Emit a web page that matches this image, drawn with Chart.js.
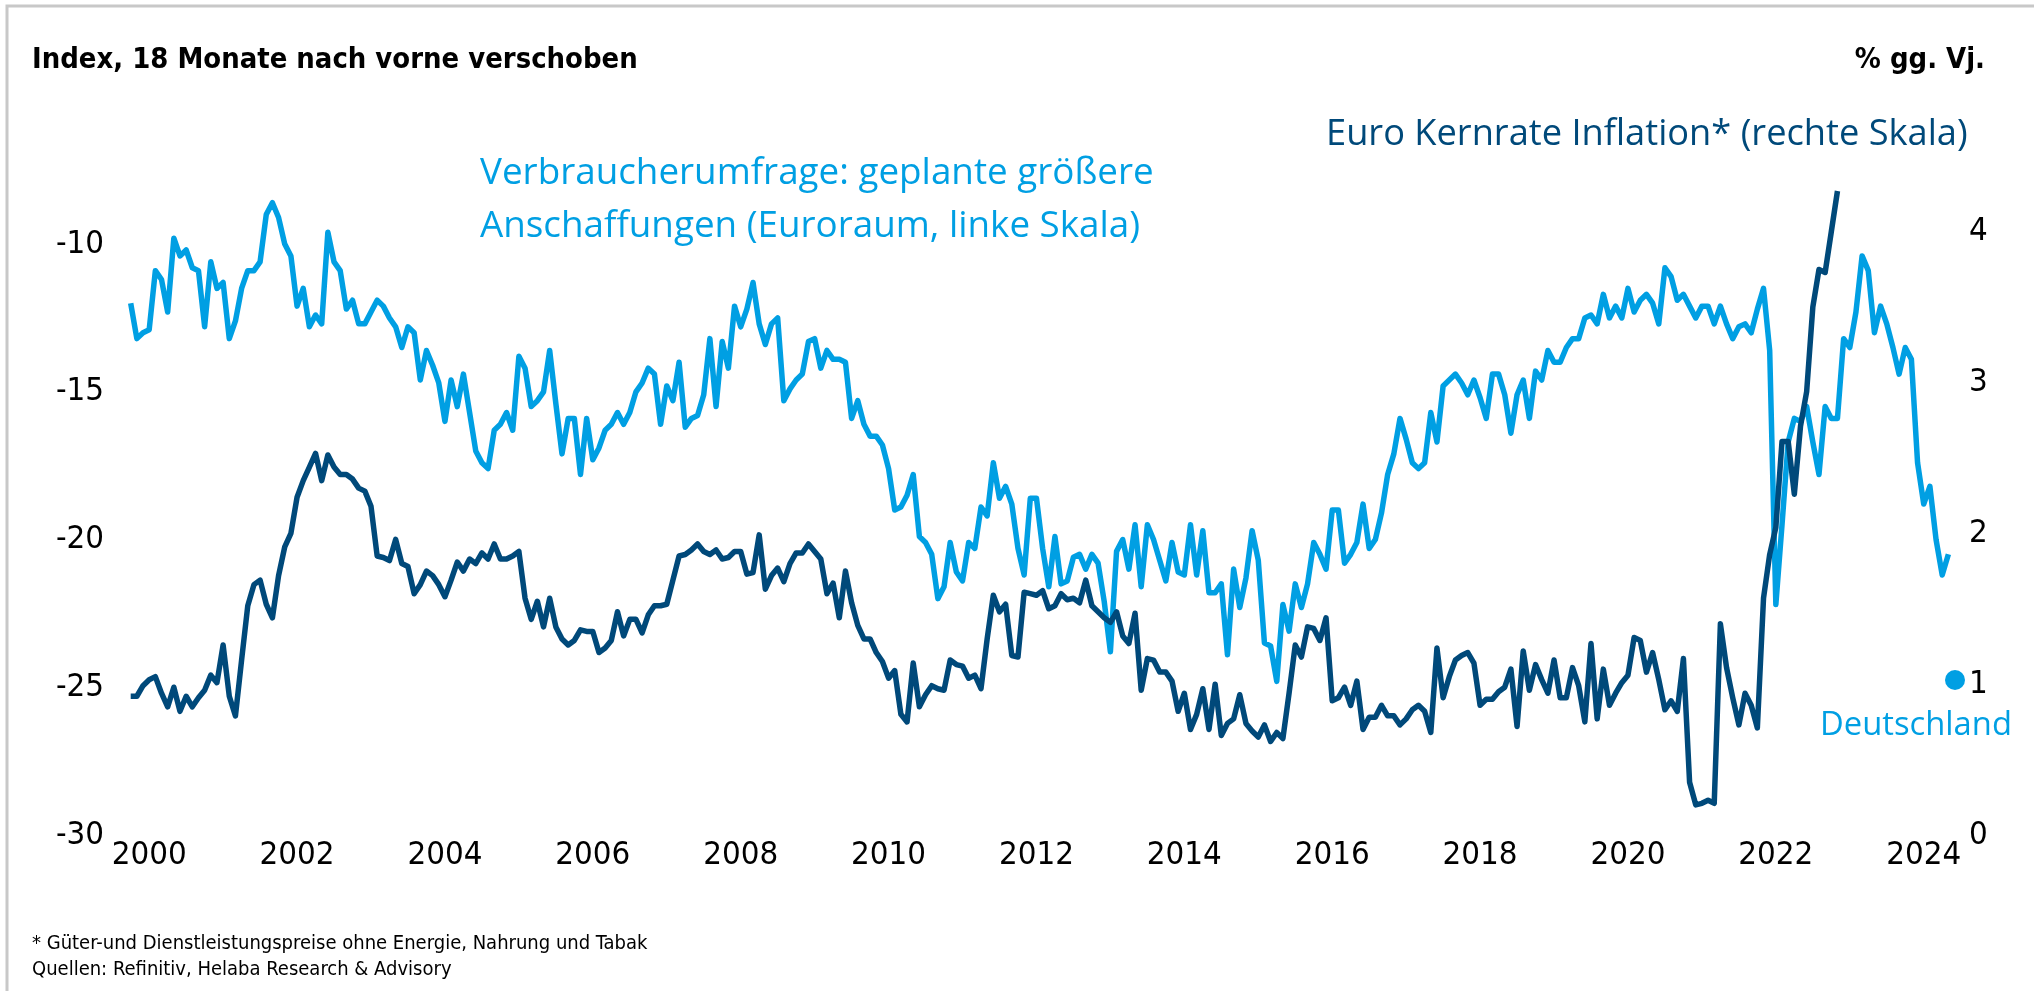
<!DOCTYPE html>
<html lang="de">
<head>
<meta charset="utf-8">
<title>Verbraucherumfrage und Euro Kernrate</title>
<script src="https://cdn.jsdelivr.net/npm/chart.js@4.4.1/dist/chart.umd.min.js"></script>
<style>
  html, body { margin: 0; padding: 0; background: #fff; }
</style>
</head>
<body>
<canvas id="chart" width="2034" height="991"></canvas>
<script>
"use strict"

// first month on the chart, one value per month after that
const startYear = 1999;
const startMonth = 10;

const yearTicks = [2000, 2002, 2004, 2006, 2008, 2010, 2012, 2014, 2016, 2018, 2020, 2022, 2024];
const leftTicks = [-30, -25, -20, -15, -10];
const rightTicks = [0, 1, 2, 3, 4];

// Verbraucherumfrage: geplante groessere Anschaffungen (Euroraum), 18 Monate nach vorne verschoben
const survey = [
  -12.0, -13.2, -13.0, -12.9, -10.9, -11.2, -12.3, -9.8, -10.4, -10.2, -10.8, -10.9,
  -12.8, -10.6, -11.5, -11.3, -13.2, -12.6, -11.5, -10.9, -10.9, -10.6, -9.0, -8.6,
  -9.1, -10.0, -10.4, -12.1, -11.5, -12.8, -12.4, -12.7, -9.6, -10.6, -10.9, -12.2,
  -11.9, -12.7, -12.7, -12.3, -11.9, -12.1, -12.5, -12.8, -13.5, -12.8, -13.0, -14.6,
  -13.6, -14.1, -14.7, -16.0, -14.6, -15.5,
  -14.4, -15.7, -17.0, -17.4, -17.6, -16.3, -16.1, -15.7, -16.3, -13.8, -14.2, -15.5,
  -15.3, -15.0, -13.6, -15.4, -17.1, -15.9, -15.9, -17.8, -15.9, -17.3, -16.9, -16.3,
  -16.1, -15.7, -16.1, -15.7, -15.0, -14.7, -14.2, -14.4, -16.1, -14.8, -15.3, -14.0,
  -16.2, -15.9, -15.8, -15.1, -13.2, -15.5, -13.3, -14.2, -12.1, -12.8, -12.2, -11.3,
  -12.7, -13.4, -12.7, -12.5, -15.3, -14.9,
  -14.6, -14.4, -13.3, -13.2, -14.2, -13.6, -13.9, -13.9, -14.0, -15.9, -15.3, -16.1,
  -16.5, -16.5, -16.8, -17.6, -19.0, -18.9, -18.5, -17.8, -19.9, -20.1, -20.5, -22.0,
  -21.6, -20.1, -21.1, -21.4, -20.1, -20.3, -18.9, -19.2, -17.4, -18.6, -18.2, -18.8,
  -20.3, -21.2, -18.6, -18.6, -20.3, -21.6, -19.9, -21.5, -21.4, -20.6, -20.5, -21.0,
  -20.5, -20.8, -22.1, -23.8, -20.4,
  -20.0, -21.0, -19.5, -21.6, -19.5, -20.0, -20.7, -21.4, -20.1, -21.1, -21.2, -19.5,
  -21.2, -19.7, -21.8, -21.8, -21.5, -23.9, -21.0, -22.3, -21.3, -19.7, -20.7, -23.5,
  -23.6, -24.8, -22.2, -23.1, -21.5, -22.3, -21.5, -20.1, -20.5, -21.0, -19.0, -19.0,
  -20.8, -20.5, -20.1, -18.8, -20.3, -20.0, -19.1, -17.8, -17.1, -15.9, -16.6, -17.4,
  -17.6, -17.4, -15.7, -16.7, -14.8, -14.6,
  -14.4, -14.7, -15.1, -14.6, -15.2, -15.9, -14.4, -14.4, -15.1, -16.4, -15.1, -14.6,
  -15.9, -14.3, -14.6, -13.6, -14.0, -14.0, -13.5, -13.2, -13.2, -12.5, -12.4, -12.7,
  -11.7, -12.5, -12.1, -12.5, -11.5, -12.3, -11.9, -11.7, -12.0, -12.7, -10.8, -11.1,
  -11.9, -11.7, -12.1, -12.5, -12.1, -12.1, -12.7, -12.1, -12.7, -13.2, -12.8, -12.7,
  -13.0, -12.2, -11.5, -13.6, -22.2,
  -19.5, -16.7, -15.9, -16.0, -15.5, -16.7, -17.8, -15.5, -15.9, -15.9, -13.2, -13.5,
  -12.3, -10.4, -10.9, -13.0, -12.1, -12.7, -13.5, -14.4, -13.5, -13.9, -17.4, -18.8,
  -18.2, -20.0, -21.2, -20.5
];

// Euro Kernrate Inflation, % gg. Vj.
const coreInflation = [
  0.92, 0.92, 0.99, 1.03, 1.05, 0.94, 0.85, 0.98, 0.82, 0.92, 0.85, 0.91,
  0.96, 1.06, 1.01, 1.26, 0.92, 0.79, 1.16, 1.52, 1.66, 1.69, 1.53, 1.44,
  1.72, 1.91, 2.00, 2.24, 2.35, 2.44, 2.53, 2.35, 2.52, 2.44, 2.39, 2.39,
  2.36, 2.30, 2.28, 2.18, 1.85, 1.84, 1.82, 1.96, 1.80, 1.78, 1.60, 1.66,
  1.75, 1.72, 1.66, 1.58, 1.69, 1.81,
  1.75, 1.83, 1.80, 1.87, 1.83, 1.93, 1.83, 1.83, 1.85, 1.88, 1.57, 1.43,
  1.55, 1.38, 1.57, 1.38, 1.30, 1.26, 1.29, 1.36, 1.35, 1.35, 1.21, 1.24,
  1.29, 1.48, 1.32, 1.43, 1.43, 1.34, 1.46, 1.52, 1.52, 1.53, 1.69, 1.85,
  1.86, 1.89, 1.93, 1.88, 1.86, 1.89, 1.83, 1.84, 1.88, 1.88, 1.73, 1.74,
  1.99, 1.63, 1.72, 1.77, 1.68, 1.80,
  1.87, 1.87, 1.93, 1.88, 1.83, 1.60, 1.67, 1.44, 1.75, 1.54, 1.39, 1.30,
  1.30, 1.21, 1.15, 1.04, 1.09, 0.80, 0.75, 1.14, 0.85, 0.93, 0.99, 0.97,
  0.96, 1.16, 1.13, 1.12, 1.04, 1.06, 0.97, 1.30, 1.59, 1.48, 1.53, 1.19,
  1.18, 1.61, 1.60, 1.59, 1.62, 1.50, 1.52, 1.60, 1.56, 1.57, 1.54, 1.69,
  1.52, 1.48, 1.44, 1.41, 1.48,
  1.32, 1.27, 1.47, 0.96, 1.17, 1.16, 1.08, 1.08, 1.02, 0.82, 0.94, 0.70,
  0.80, 0.97, 0.70, 1.00, 0.66, 0.74, 0.77, 0.93, 0.74, 0.69, 0.65, 0.73,
  0.62, 0.68, 0.64, 0.94, 1.26, 1.18, 1.38, 1.37, 1.29, 1.44, 0.89, 0.91,
  0.98, 0.86, 1.02, 0.70, 0.78, 0.78, 0.86, 0.79, 0.79, 0.73, 0.77, 0.83,
  0.86, 0.82, 0.68, 1.24, 0.91, 1.05,
  1.16, 1.19, 1.21, 1.14, 0.86, 0.90, 0.90, 0.95, 0.98, 1.10, 0.72, 1.22,
  0.96, 1.13, 1.03, 0.94, 1.16, 0.91, 0.91, 1.11, 0.99, 0.75, 1.27, 0.77,
  1.10, 0.86, 0.94, 1.01, 1.06, 1.31, 1.29, 1.08, 1.21, 1.03, 0.83, 0.89,
  0.82, 1.17,
  0.35, 0.20, 0.21, 0.23, 0.21,
  1.40, 1.11, 0.91, 0.73, 0.94, 0.86, 0.71, 1.57, 1.86, 2.04, 2.61, 2.61,
  2.26, 2.71, 2.94, 3.50, 3.75, 3.73, 4.00, 4.27
];

const lightBlue = '#009fe3';
const darkBlue = '#00497a';

function toPoints(values) {
  return values.map((v, i) => ({ x: startYear + (startMonth - 1 + i) / 12, y: v }));
}

// pick a narrow font if the machine has one
function hasFont(name) {
  let c = document.createElement('canvas').getContext('2d');
  c.font = '40px monospace';
  let a = c.measureText('Index 2004 Wgq').width;
  c.font = '40px "' + name + '", monospace';
  let b = c.measureText('Index 2004 Wgq').width;
  return a !== b;
}
const narrow = ['Liberation Sans Narrow', 'DejaVu Sans Condensed', 'Roboto Condensed'].find(hasFont) || 'Roboto';
const narrowFam = '"' + narrow + '", Roboto, sans-serif';
const plainFam = '"Open Sans", "Noto Sans", sans-serif';

let measureCtx = document.createElement('canvas').getContext('2d');
function fitSize(text, weight, family, width) {
  measureCtx.font = weight + ' 100px ' + family;
  return 100 * width / measureCtx.measureText(text).width;
}

const tickSize = fitSize('2000', 'normal', narrowFam, 75);
const tickFont = { family: narrowFam, size: tickSize };

function drawText(ctx, text, x, y, size, weight, family, color, align) {
  ctx.font = weight + ' ' + size + 'px ' + family;
  ctx.fillStyle = color;
  ctx.textAlign = align || 'left';
  ctx.textBaseline = 'middle';
  ctx.fillText(text, x, y);
}

const textPlugin = {
  id: 'texts',
  beforeDraw(chart) {
    let ctx = chart.ctx;
    ctx.save();
    ctx.fillStyle = '#fff';
    ctx.fillRect(0, 0, chart.width, chart.height);
    ctx.restore();
  },
  afterDraw(chart) {
    let ctx = chart.ctx;
    ctx.save();

    // frame
    ctx.strokeStyle = '#c8c8c8';
    ctx.lineWidth = 3;
    ctx.beginPath();
    ctx.moveTo(7, chart.height);
    ctx.lineTo(7, 6);
    ctx.lineTo(chart.width, 6);
    ctx.stroke();

    let title = 'Index, 18 Monate nach vorne verschoben';
    let ts = fitSize(title, 'bold', narrowFam, 606);
    drawText(ctx, title, 32, 60, ts, 'bold', narrowFam, '#000');
    drawText(ctx, '% gg. Vj.', 1985, 60, ts, 'bold', narrowFam, '#000', 'right');

    let euro = 'Euro Kernrate Inflation* (rechte Skala)';
    drawText(ctx, euro, 1326, 135, fitSize(euro, 'normal', plainFam, 642), 'normal', plainFam, darkBlue);

    let l1 = 'Verbraucherumfrage: geplante größere';
    let ls = fitSize(l1, 'normal', plainFam, 674);
    drawText(ctx, l1, 480, 174, ls, 'normal', plainFam, lightBlue);
    drawText(ctx, 'Anschaffungen (Euroraum, linke Skala)', 480, 227, ls, 'normal', plainFam, lightBlue);

    let de = 'Deutschland';
    drawText(ctx, de, 1820, 726, fitSize(de, 'normal', plainFam, 192), 'normal', plainFam, lightBlue);
    ctx.fillStyle = lightBlue;
    ctx.beginPath();
    ctx.arc(1955, 680, 10, 0, Math.PI * 2);
    ctx.fill();

    let f1 = '* Güter-und Dienstleistungspreise ohne Energie, Nahrung und Tabak';
    let fs = fitSize(f1, 'normal', narrowFam, 616);
    drawText(ctx, f1, 32, 944, fs, 'normal', narrowFam, '#000');
    drawText(ctx, 'Quellen: Refinitiv, Helaba Research & Advisory', 32, 970, fs, 'normal', narrowFam, '#000');

    ctx.restore();
  }
};

function fixedTicks(list) {
  return function (scale) {
    scale.ticks = list.map(v => ({ value: v }));
  };
}

new Chart(document.getElementById('chart'), {
  type: 'line',
  data: {
    datasets: [
      {
        label: 'Euro Kernrate Inflation* (rechte Skala)',
        data: toPoints(coreInflation),
        yAxisID: 'yR',
        borderColor: darkBlue,
        borderWidth: 5.5,
        borderJoinStyle: 'round',
        pointRadius: 0,
        tension: 0
      },
      {
        label: 'Verbraucherumfrage: geplante größere Anschaffungen (Euroraum, linke Skala)',
        data: toPoints(survey),
        yAxisID: 'yL',
        borderColor: lightBlue,
        borderWidth: 5.5,
        borderJoinStyle: 'round',
        pointRadius: 0,
        tension: 0
      }
    ]
  },
  options: {
    responsive: false,
    animation: false,
    events: [],
    layout: { padding: { top: 185, bottom: 106, left: 0, right: 0 } },
    plugins: { legend: { display: false }, tooltip: { enabled: false } },
    scales: {
      x: {
        type: 'linear',
        min: 1999.7,
        max: 2024.45,
        afterBuildTicks: fixedTicks(yearTicks),
        afterFit: s => { s.height = 50; },
        grid: { display: false, drawTicks: false },
        border: { display: false },
        ticks: { font: tickFont, color: '#000', padding: 1, maxRotation: 0, autoSkip: false,
          callback: v => String(v) }
      },
      yL: {
        position: 'left',
        min: -30,
        max: -8,
        afterBuildTicks: fixedTicks(leftTicks),
        afterFit: s => { s.width = 127; },
        grid: { display: false, drawTicks: false },
        border: { display: false },
        ticks: { font: tickFont, color: '#000', padding: 23 }
      },
      yR: {
        position: 'right',
        min: 0,
        max: 4.31,
        afterBuildTicks: fixedTicks(rightTicks),
        afterFit: s => { s.width = 77; },
        grid: { display: false, drawTicks: false },
        border: { display: false },
        ticks: { font: tickFont, color: '#000', padding: 12 }
      }
    }
  },
  plugins: [textPlugin]
});
</script>
</body>
</html>
